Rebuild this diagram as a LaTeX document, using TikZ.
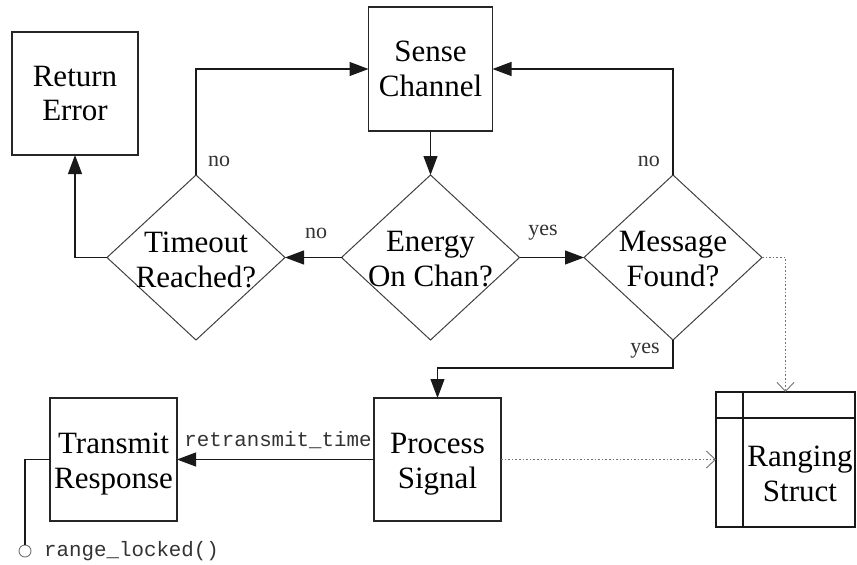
\documentclass[tikz,border=0pt]{standalone}
\usepackage{fontspec}
\setmainfont{Liberation Serif}
\setmonofont{Liberation Mono}
\usetikzlibrary{shapes.geometric,arrows.meta,calc}

\begin{document}
\begin{tikzpicture}[x=1pt,y=-1pt,
  nodefont/.style={font=\fontsize{31}{35}\selectfont},
  box/.style={draw=black!85, line width=1.2pt, inner sep=0pt, outer sep=0pt,
    minimum width=126pt, minimum height=123pt, align=center, nodefont},
  dia/.style={diamond, draw=black!75, line width=1pt, inner sep=0pt, outer sep=0pt,
    minimum width=178pt, minimum height=165pt},
  txt/.style={align=center, nodefont},
  flow/.style={draw=black!90, line width=1.1pt, -{Triangle[length=19pt,width=14pt]}},
  refl/.style={draw=black!55, line width=1pt, dash pattern=on 1.6pt off 2pt,
    -{Straight Barb[length=9pt,width=17pt,line width=0.9pt]}},
  lab/.style={font=\fontsize{22}{24}\selectfont, text=black!80, inner sep=0pt},
  code/.style={font=\ttfamily\fontsize{20.8}{24}\selectfont, text=black!80, inner sep=0pt}]

\useasboundingbox (0,0) rectangle (857,565);

% process boxes
\node[box] (re) at (75,93.5) {Return\\Error};
\node[box, minimum width=124pt, minimum height=124pt] (sc) at (430.5,69) {Sense\\Channel};
\node[box, minimum width=127pt] (tr) at (113.5,459.5) {};
\node[txt] (trt) at (113.5,464) {Transmit\\Response};
\node[box, minimum width=127pt] (ps) at (437.5,459.5) {};
\node[txt] (pst) at (437.5,464) {Process\\Signal};

% decisions
\node[dia] (to) at (196,257.5) {};
\node[txt] (tot) at (196,259.5) {Timeout\\Reached?};
\node[dia] (en) at (430.5,257.5) {};
\node[txt] (ent) at (430.5,259.5) {Energy\\On Chan?};
\node[dia] (mf) at (673,257.5) {};
\node[txt] (mft) at (673,259.5) {Message\\Found?};

% data structure
\node[draw=black!90, line width=1.3pt, minimum width=139pt, minimum height=135pt,
  inner sep=0pt, outer sep=0pt] (rng) at (785.5,459.5) {};
\draw[black!90, line width=1.3pt]
  ($(rng.north west)+(27,0)$) -- ($(rng.south west)+(27,0)$)
  ($(rng.north west)+(0,26)$) -- ($(rng.north east)+(0,26)$);
\node[txt] (rngt) at (800,474) {Ranging\\Struct};

% control flow
\draw[flow] (sc.south) -- (en.north);
\draw[flow] (en.west) -- (to.east);
\draw[flow] (en.east) -- (mf.west);
\draw[flow] (to.north) |- (sc.west);
\draw[flow] (mf.north) |- (sc.east);
\draw[flow] (to.west) -| (re.south);
\draw[flow] (mf.south) -- ++(0,28) -| (ps.north);
\draw[flow] (ps.west) -- (tr.east);

% data references
\draw[refl] (mf.east) -| (rng.north);
\draw[refl] (ps.east) -- (rng.west);

% lock callback
\node[circle, draw=black!55, line width=0.9pt, minimum size=12pt, inner sep=0pt] (lk) at (25,551) {};
\draw[black!90, line width=1.1pt] (tr.west) -| (lk.north);

% labels
\node[lab, anchor=west] (l1) at (208,161) {no};
\node[lab] (l2) at (316,233) {no};
\node[lab] (l3) at (543,233) {yes};
\node[lab, anchor=east] (l4) at (660,161) {no};
\node[lab, anchor=east] (l5) at (660,351) {yes};
\node[code] (l6) at (278,440) {retransmit\_time};
\node[code, anchor=west] (l7) at (44,551) {range\_locked()};
\end{tikzpicture}
\end{document}
